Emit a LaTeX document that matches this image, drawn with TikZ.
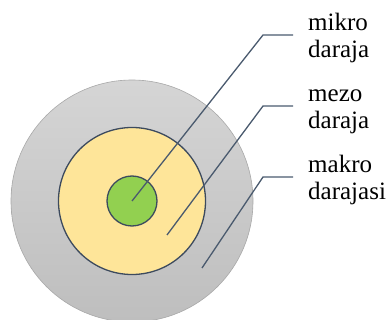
\documentclass[tikz,border=0pt]{standalone}
\usepackage{fontspec}
\setmainfont{Liberation Serif}
\newfontfamily\labfont{Liberation Serif}
\definecolor{edge}{HTML}{3C4A5E}
\definecolor{leader}{HTML}{4A5A6E}
\definecolor{gold}{HTML}{FEE599}
\definecolor{lime}{HTML}{92D050}
\definecolor{greytop}{HTML}{D5D5D5}
\definecolor{greybot}{HTML}{BEBEBE}
\definecolor{greyline}{HTML}{A8A8A8}
\tikzset{
  ring/.style={circle, inner sep=0pt, line width=1.3pt, draw=edge},
  leaderline/.style={draw=leader, line width=1.3pt},
  lab/.style={font=\labfont\fontsize{25}{27.5}\selectfont, align=left, anchor=base west, inner sep=0pt}
}
\begin{document}
\begin{tikzpicture}[x=1pt,y=-1pt]
\useasboundingbox (0,0) rectangle (388,320);
\node[circle, inner sep=0pt, minimum size=242pt, top color=greytop, bottom color=greybot, draw=greyline, line width=0.6pt] (makro) at (132,201) {};
\node[ring, minimum size=147pt, fill=gold] (mezo) at (132,201) {};
\node[ring, minimum size=50pt, fill=lime] (mikro) at (132,201) {};
\coordinate (s2) at (167,235);
\coordinate (s3) at (202,268);
\coordinate (k1) at (263,35);
\coordinate (k2) at (263,106);
\coordinate (k3) at (263,177);
\coordinate (e1) at (293,35);
\coordinate (e2) at (293,106);
\coordinate (e3) at (293,177);
\draw[leaderline] (mikro.center) -- (k1) -- (e1);
\draw[leaderline] (s2) -- (k2) -- (e2);
\draw[leaderline] (s3) -- (k3) -- (e3);
\node[lab] (t1) at (308,58) {mikro\\daraja};
\node[lab] (t2) at (308,129) {mezo\\daraja};
\node[lab] (t3) at (308,200) {makro\\darajasi};
\end{tikzpicture}
\end{document}
